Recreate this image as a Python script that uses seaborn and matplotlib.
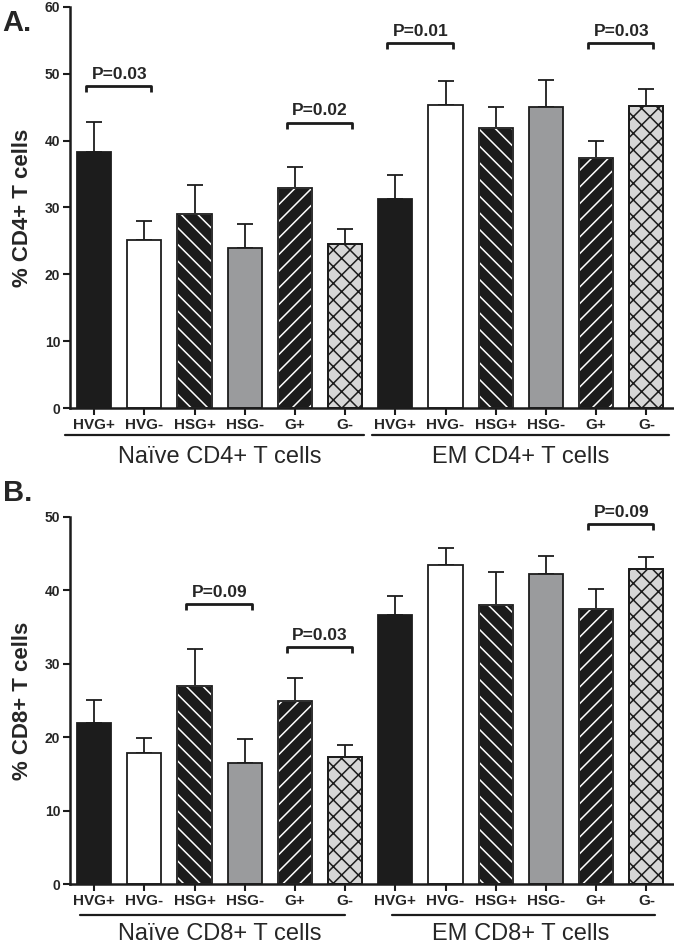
import numpy as np
import pandas as pd
import matplotlib
matplotlib.use("Agg")
import matplotlib.pyplot as plt
from matplotlib.patches import Rectangle
import seaborn as sns

# ---- data ----
bar_labels = ["HVG+", "HVG-", "HSG+", "HSG-", "G+", "G-"] * 2
bar_ids = ["naive " + s for s in bar_labels[:6]] + ["em " + s for s in bar_labels[6:]]

cd4_mean = [38.3, 25.1, 29.0, 24.0, 32.9, 24.6, 31.2, 45.4, 41.9, 45.0, 37.4, 45.2]
cd4_err = [4.5, 2.9, 4.4, 3.5, 3.2, 2.2, 3.7, 3.5, 3.2, 4.1, 2.6, 2.6]
cd8_mean = [22.0, 17.8, 27.0, 16.5, 24.9, 17.3, 36.7, 43.4, 38.0, 42.2, 37.4, 42.9]
cd8_err = [3.1, 2.1, 5.0, 3.2, 3.1, 1.7, 2.5, 2.4, 4.5, 2.5, 2.8, 1.7]

# (left bar, right bar, bracket height, label)
cd4_pvals = [(0, 1, 48.2, "P=0.03"), (4, 5, 42.7, "P=0.02"),
             (6, 7, 54.6, "P=0.01"), (10, 11, 54.6, "P=0.03")]
cd8_pvals = [(2, 3, 38.1, "P=0.09"), (4, 5, 32.3, "P=0.03"),
             (10, 11, 49.0, "P=0.09")]

groups_cd4 = ["Na\u00efve CD4+ T cells", "EM CD4+ T cells"]
groups_cd8 = ["Na\u00efve CD8+ T cells", "EM CD8+ T cells"]
# how far the group underline runs, in bar units
span_cd4 = [(-0.58, 5.38), (5.54, 11.46)]
span_cd8 = [(-0.28, 4.99), (5.93, 11.18)]

# fill style per bar: (face, hatch colour, hatch)
styles = [("#1c1c1c", None, ""), ("white", None, ""), ("#1c1c1c", "white", "\\\\"),
          ("#9a9b9d", None, ""), ("#1c1c1c", "white", "//"), ("#d6d6d6", "#1c1c1c", "xx")] * 2

sns.set_style("ticks")
plt.rcParams["font.family"] = ["Liberation Sans", "DejaVu Sans"]
plt.rcParams["hatch.linewidth"] = 1.1

fig = plt.figure(figsize=(6.74, 9.44), dpi=100)
ax_a = fig.add_axes([70 / 674, 1 - 408 / 944, 604 / 674, 401 / 944])
ax_b = fig.add_axes([70 / 674, 1 - 884 / 944, 604 / 674, 367 / 944])


def draw_panel(ax, means, errs, pvals, groups, spans, ylab, ymax, tick_h, line_px, text_px):
    df = pd.DataFrame({"bar": bar_ids, "pct": means})
    sns.barplot(data=df, x="bar", y="pct", order=bar_ids, errorbar=None,
                width=0.68, color="white", ax=ax, zorder=2)
    for p, (face, hcol, hatch) in zip(ax.patches[:12], styles):
        p.set_facecolor(face)
        p.set_linewidth(1.3)
        if hatch:
            p.set_hatch(hatch)
            p.set_edgecolor(hcol)
            # outline on top so the edge stays dark
            ax.add_patch(Rectangle((p.get_x(), p.get_y()), p.get_width(), p.get_height(),
                                   fill=False, edgecolor="#1c1c1c", linewidth=1.3, zorder=3))
        else:
            p.set_edgecolor("#1c1c1c")
    x = np.arange(len(means))
    ax.errorbar(x, means, yerr=[np.zeros(len(errs)), errs], fmt="none",
                ecolor="#1c1c1c", elinewidth=1.3, capsize=5.5, capthick=1.3, zorder=1)

    for i, j, y, txt in pvals:
        ax.plot([i - 0.16, i - 0.16, j + 0.14, j + 0.14], [y - tick_h, y, y, y - tick_h],
                color="#1c1c1c", lw=2, solid_capstyle="butt", clip_on=False)
        ax.text((i + j) / 2, y + tick_h * 0.7, txt, ha="center", va="bottom",
                fontsize=12.5, fontweight="bold")

    ax.set_xlim(-0.48, 11.55)
    ax.set_ylim(0, ymax)
    ax.set_yticks(np.arange(0, ymax + 1, 10))
    ax.set_xticks(x)
    ax.set_xticklabels(bar_labels, fontsize=11, fontweight="bold")
    for t in ax.get_yticklabels():
        t.set_fontweight("bold")
        t.set_fontsize(10)
    ax.tick_params(axis="both", width=1.5, length=5, color="#1c1c1c", pad=2)
    ax.set_xlabel("")
    ax.set_ylabel(ylab, fontsize=16, fontweight="bold")
    ax.yaxis.set_label_coords(-0.062, 0.5)
    sns.despine(ax=ax)
    for s in ["left", "bottom"]:
        ax.spines[s].set_linewidth(1.8)
        ax.spines[s].set_color("#1c1c1c")

    h = ax.get_window_extent().height
    tr = ax.get_xaxis_transform()
    for k, (name, (lo, hi)) in enumerate(zip(groups, spans)):
        ax.plot([lo, hi], [-line_px / h, -line_px / h], transform=tr,
                color="#1c1c1c", lw=1.6, clip_on=False)
        ax.text(6 * k + 2.5, -text_px / h, name, transform=tr, ha="center",
                va="top", fontsize=17)


draw_panel(ax_a, cd4_mean, cd4_err, cd4_pvals, groups_cd4, span_cd4,
           "% CD4+ T cells", 60, 0.9, 27, 38)
draw_panel(ax_b, cd8_mean, cd8_err, cd8_pvals, groups_cd8, span_cd8,
           "% CD8+ T cells", 50, 0.8, 31, 39)

fig.text(0.004, 0.99, "A.", fontsize=21, fontweight="bold", va="top")
fig.text(0.004, 0.493, "B.", fontsize=21, fontweight="bold", va="top")

fig.savefig("out.png", dpi=100)
